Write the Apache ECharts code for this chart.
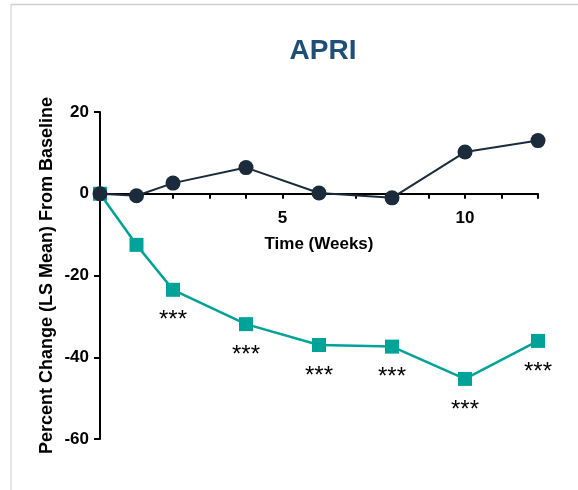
<!DOCTYPE html>
<html>
<head>
<meta charset="utf-8">
<script src="https://cdn.jsdelivr.net/npm/echarts@6/dist/echarts.min.js"></script>
<style>
html,body{margin:0;padding:0;background:#fff;}
#c{width:578px;height:490px;}
</style>
</head>
<body>
<div id="c"></div>
<script>
var weeks = [0, 1, 2, 4, 6, 8, 10, 12];
var placeboValues = [0, -0.5, 2.6, 6.4, 0.2, -1.0, 10.2, 13.0];
var treatedValues = [0, -12.5, -23.5, -31.9, -37.0, -37.4, -45.3, -36.0];
var sigLabels = ['', '', '***', '***', '***', '***', '***', '***'];
var xTickLabels = [5, 10];
var yTicks = [20, 0, -20, -40, -60];

var FONT = '"Liberation Sans", Arial, sans-serif';
var chart = echarts.init(document.getElementById('c'), null, {renderer: 'canvas'});

function pairs(vals) { return weeks.map(function (w, i) { return [w, vals[i]]; }); }

var gridTop = 112, gridBottom = 51, H = 490;
var yMin = -60, yMax = 20;
var plotH = H - gridTop - gridBottom;
var zeroOffset = -plotH * (0 - yMin) / (yMax - yMin);

chart.setOption({
  animation: false,
  backgroundColor: '#ffffff',
  title: {
    text: 'APRI', left: 318, top: 32, textAlign: 'center',
    textStyle: {color: '#1F4E79', fontSize: 28, fontWeight: 'bold', fontFamily: FONT}
  },
  graphic: [
    {type: 'line', shape: {x1: 11, y1: 4.5, x2: 578, y2: 4.5}, style: {stroke: '#cfcfcf', lineWidth: 1.5}},
    {type: 'line', shape: {x1: 11, y1: 4.5, x2: 11, y2: 490}, style: {stroke: '#dcdcdc', lineWidth: 1.5}}
  ],
  grid: {left: 100, right: 40, top: gridTop, bottom: gridBottom, containLabel: false, outerBoundsMode: 'none'},
  xAxis: {
    type: 'value', min: 0, max: 12, interval: 1,
    position: 'bottom', offset: zeroOffset,
    name: 'Time (Weeks)', nameLocation: 'middle', nameGap: 42, nameMoveOverlap: false,
    nameTextStyle: {color: '#000', fontSize: 17, fontWeight: 'bold', fontFamily: FONT},
    axisLine: {onZero: false, lineStyle: {color: '#000', width: 2}},
    axisTick: {show: true, length: 5, lineStyle: {color: '#000', width: 2}},
    axisLabel: {
      color: '#000', fontSize: 17, fontWeight: 'bold', fontFamily: FONT, margin: 16,
      formatter: function (v) { return xTickLabels.indexOf(v) >= 0 ? String(v) : ''; }
    },
    splitLine: {show: false}
  },
  yAxis: {
    type: 'value', min: yMin, max: yMax, interval: 20,
    name: 'Percent Change (LS Mean) From Baseline', nameLocation: 'middle', nameGap: 44, nameMoveOverlap: false,
    nameTextStyle: {color: '#000', fontSize: 18, fontWeight: 'bold', fontFamily: FONT},
    axisLine: {show: true, onZero: false, lineStyle: {color: '#000', width: 2}},
    axisTick: {show: true, length: 6, lineStyle: {color: '#000', width: 2}},
    axisLabel: {
      color: '#000', fontSize: 17, fontWeight: 'bold', fontFamily: FONT, margin: 11,
      formatter: function (v) { return yTicks.indexOf(v) >= 0 ? String(v) : ''; }
    },
    splitLine: {show: false}
  },
  series: [
    {
      type: 'line', data: pairs(treatedValues), z: 3,
      symbol: 'rect', symbolSize: 14,
      itemStyle: {color: '#00A398'},
      lineStyle: {color: '#00A398', width: 2.5},
      label: {
        show: true, position: 'bottom', distance: 12,
        color: '#000', fontSize: 24, fontFamily: FONT,
        formatter: function (p) { return sigLabels[p.dataIndex]; }
      }
    },
    {
      type: 'line', data: pairs(placeboValues), z: 4,
      symbol: 'circle', symbolSize: 15,
      itemStyle: {color: '#1B2B3C'},
      lineStyle: {color: '#1B2B3C', width: 2}
    }
  ]
});
</script>
</body>
</html>
